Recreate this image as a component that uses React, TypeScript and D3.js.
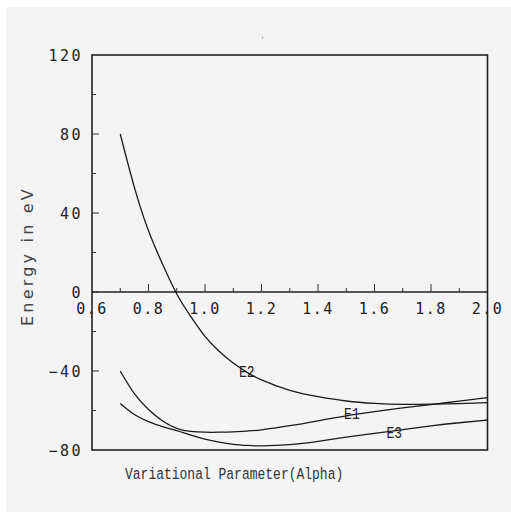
import React from "react";
import * as d3 from "d3";

const alphas = [0.7, 0.75, 0.8, 0.85, 0.9, 0.95, 1.0, 1.05, 1.1, 1.15, 1.2, 1.3, 1.4, 1.5, 1.6, 1.7, 1.8, 1.9, 2.0];
const e1 = [-40, -51.5, -59.5, -65.3, -69, -70.6, -71, -71, -70.8, -70.4, -69.8, -67.7, -65.2, -62.7, -60.6, -58.7, -57, -55.2, -53.5];
const e2 = [80, 53, 31, 14, -1, -12.5, -22.5, -30, -36, -40.8, -44.5, -49.8, -53, -55.2, -56.4, -56.9, -56.8, -56.5, -56];
const e3 = [-56.4, -62, -65.6, -68.2, -70.2, -72.5, -74.5, -76, -77.1, -77.7, -77.9, -77.3, -75.6, -73.5, -71.6, -69.7, -67.8, -66.2, -64.8];
const seriesNames = ["E1", "E2", "E3"];
const labelPos = [
  { a: 1.52, v: -61.3 },
  { a: 1.148, v: -40.3 },
  { a: 1.67, v: -71 },
];
const xTicks = [0.6, 0.8, 1.0, 1.2, 1.4, 1.6, 1.8, 2.0];
const xMinor = [0.7, 0.9, 1.1, 1.3, 1.5, 1.7, 1.9];
const yTicks = [120, 80, 40, 0, -40, -80];
const yMinor = [100, 60, 20, -20, -60];

export default function App() {
  const W = 511, H = 512;
  const x = d3.scaleLinear().domain([0.6, 2.0]).range([92, 487.5]);
  const y = d3.scaleLinear().domain([-80, 120]).range([450, 55]);
  const line = d3
    .line<number>()
    .x((_, i) => x(alphas[i]))
    .y((d) => y(d))
    .curve(d3.curveNatural);
  const series = [e1, e2, e3];
  const tickFont = "'DejaVu Sans Mono', monospace";
  const monoFont = "'Liberation Mono', 'Courier New', monospace";
  return (
    <svg width={W} height={H} style={{ position: "absolute", left: 0, top: 0 }}>
      <rect x={0} y={0} width={W} height={H} fill="#ffffff" />
      <rect x={6} y={7} width={W - 6} height={H - 7} fill="#f4f4f4" />
      <rect x={262} y={37} width={1.2} height={1.2} fill="#777" />
      {/* frame */}
      <rect
        x={x(0.6)}
        y={y(120)}
        width={x(2.0) - x(0.6)}
        height={y(-80) - y(120)}
        fill="none"
        stroke="#222"
        strokeWidth={1.6}
      />
      {/* zero axis */}
      <line x1={x(0.6)} x2={x(2.0)} y1={y(0)} y2={y(0)} stroke="#222" strokeWidth={1.6} />
      {xTicks.slice(1, -1).map((t) => (
        <line key={"xt" + t} x1={x(t)} x2={x(t)} y1={y(0)} y2={y(0) - 8} stroke="#333" strokeWidth={1} />
      ))}
      {xMinor.map((t) => (
        <line key={"xm" + t} x1={x(t)} x2={x(t)} y1={y(0)} y2={y(0) - 4} stroke="#333" strokeWidth={1} />
      ))}
      {xTicks.map((t) => (
        <text
          key={"xl" + t}
          x={x(t)}
          y={y(0) + 22}
          textAnchor="middle"
          fontFamily={tickFont}
          fontSize={15}
          letterSpacing={1.5}
          fill="#222"
        >
          {t.toFixed(1)}
        </text>
      ))}
      {yTicks.slice(1, -1).map((t) => (
        <line key={"yt" + t} x1={x(0.6)} x2={x(0.6) + 7} y1={y(t)} y2={y(t)} stroke="#333" strokeWidth={1} />
      ))}
      {yMinor.map((t) => (
        <line key={"ym" + t} x1={x(0.6)} x2={x(0.6) + 4} y1={y(t)} y2={y(t)} stroke="#333" strokeWidth={1} />
      ))}
      {yTicks.map((t) => (
        <text
          key={"yl" + t}
          x={83}
          y={y(t) + 5.5}
          textAnchor="end"
          fontFamily={tickFont}
          fontSize={15}
          letterSpacing={2.5}
          fill="#222"
        >
          {t < 0 ? "\u2212" + Math.abs(t) : String(t)}
        </text>
      ))}
      {/* y label */}
      <text
        transform="translate(33,256) rotate(-90)"
        textAnchor="middle"
        fontFamily="'DejaVu Sans', sans-serif"
        fontSize={16}
        letterSpacing={3.2}
        fill="#444"
      >
        Energy in eV
      </text>
      {/* x label */}
      <text
        transform="translate(125,479) scale(1,1.3)"
        fontFamily={monoFont}
        fontSize={13}
        fill="#333"
      >
        Variational Parameter(Alpha)
      </text>
      {series.map((s, i) => (
        <path key={"s" + i} d={line(s) || ""} fill="none" stroke="#1a1a1a" strokeWidth={1.3} />
      ))}
      {labelPos.map((p, i) => (
        <text
          key={"lab" + i}
          transform={`translate(${x(p.a)},${y(p.v) + 5.5}) scale(1,1.3)`}
          textAnchor="middle"
          fontFamily={monoFont}
          fontSize={13}
          fill="#222"
        >
          {seriesNames[i]}
        </text>
      ))}
    </svg>
  );
}
